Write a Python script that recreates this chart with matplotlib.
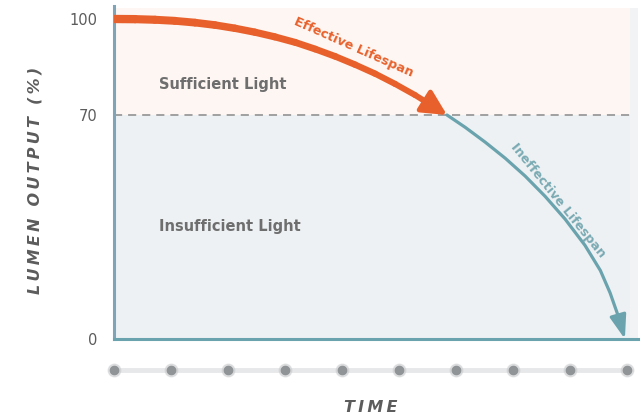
"""
Lumen output over time: effective vs ineffective lifespan.
"""

import numpy as np
import matplotlib.pyplot as plt
from matplotlib.collections import LineCollection
from matplotlib.patches import FancyArrowPatch

# values
y_ticks = [0, 70, 100]
y_tick_labels = ["0", "70", "100"]
threshold = 70
time_ticks = list(range(10))

effective_t = [0.0, 0.37, 0.72, 1.07, 1.42, 1.77, 2.12, 2.47, 2.82, 3.18,
               3.53, 3.88, 4.23, 4.58, 4.93, 5.28, 5.63, 5.84]
effective_lm = [100.0, 99.95, 99.76, 99.42, 98.87, 98.11, 97.1, 95.88, 94.42,
                92.68, 90.6, 88.31, 85.72, 82.91, 79.71, 76.23, 72.35, 70.0]

ineffective_t = [5.84, 6.16, 6.51, 6.86, 7.21, 7.56, 7.91, 8.26, 8.53, 8.70,
                 8.84, 8.96]
ineffective_lm = [70.0, 66.14, 61.51, 56.51, 50.93, 44.6, 37.5, 29.27, 21.41,
                  14.44, 7.35, 0.0]

ORANGE = "#e8612c"
TEAL = "#6aa3ad"
GRAY = "#5c5c5c"

fig = plt.figure(figsize=(6.41, 4.17), dpi=100)
ax = fig.add_axes([114 / 641, 1 - 339 / 417, 524 / 641, 333 / 417])
ax.set_xlim(0, 9.19)
ax.set_ylim(0, 104.06)

# background panel
panel_right = 9.05
ax.fill_between([0, panel_right], threshold, 103.5, color="#fdf6f2", lw=0, zorder=0)
ax.fill_between([0, panel_right], 0, threshold, color="#edf1f3", lw=0, zorder=0)
ax.fill_between([panel_right, 9.19], 0, 103.5, color="#f2f3f4", lw=0, zorder=0)

ax.axhline(threshold, xmax=panel_right / 9.19, color="#9a9a9a", lw=1.3,
           linestyle=(0, (4.5, 3.3)), zorder=1)

# effective lifespan - tapered orange stroke
pts = np.column_stack([effective_t, effective_lm])
segs = np.stack([pts[:-2], pts[1:-1]], axis=1)
widths = np.linspace(6.0, 4.2, len(segs))
ax.add_collection(LineCollection(segs, linewidths=widths, colors=ORANGE,
                                 capstyle="round", joinstyle="round", zorder=3))
ax.add_patch(FancyArrowPatch(tuple(pts[-2]), tuple(pts[-1]),
                             arrowstyle="-|>,head_length=0.75,head_width=0.38",
                             mutation_scale=20, lw=3.5, color=ORANGE,
                             shrinkA=0, shrinkB=0, zorder=3))

# ineffective lifespan - teal
ax.plot(ineffective_t[:-1], ineffective_lm[:-1], color=TEAL, lw=2.3,
        solid_capstyle="round", solid_joinstyle="round", zorder=2)
ax.add_patch(FancyArrowPatch((ineffective_t[-2], ineffective_lm[-2]),
                             (ineffective_t[-1], ineffective_lm[-1]),
                             arrowstyle="-|>,head_length=0.72,head_width=0.25",
                             mutation_scale=20, lw=2.3, color=TEAL,
                             shrinkA=0, shrinkB=0, zorder=2))

# labels inside the chart
ax.text(4.2, 91.0, "Effective Lifespan", color=ORANGE, fontsize=9.2,
        fontweight="bold", rotation=-24, ha="center", va="center", zorder=4)
ax.text(7.78, 43.2, "Ineffective Lifespan", color="#7aaab3", fontsize=9.2,
        fontweight="bold", rotation=-51, ha="center", va="center", zorder=4)
ax.text(0.79, 79.4, "Sufficient Light", color="#6e6e6e", fontsize=10.5,
        fontweight="bold", ha="left", va="center")
ax.text(0.79, 35.0, "Insufficient Light", color="#6e6e6e", fontsize=10.5,
        fontweight="bold", ha="left", va="center")

# spines and ticks
for side in ["top", "right"]:
    ax.spines[side].set_visible(False)
ax.spines["left"].set_color("#7fa4b8")
ax.spines["left"].set_linewidth(2.2)
ax.spines["bottom"].set_color(TEAL)
ax.spines["bottom"].set_linewidth(2.2)
ax.set_yticks(y_ticks)
ax.set_yticklabels(y_tick_labels)
ax.set_xticks([])
ax.tick_params(axis="y", length=0, pad=12, labelsize=10.5, labelcolor=GRAY)

# time dots under the axis
row = ax.get_xaxis_transform()
ax.plot([time_ticks[0], time_ticks[-1]], [-0.093, -0.093], transform=row,
        color="#e7e8e9", lw=3.5, clip_on=False, zorder=1)
ax.plot(time_ticks, [-0.093] * len(time_ticks), "o", transform=row,
        color="#c9cbcd", ms=9, clip_on=False, zorder=2, alpha=0.5)
ax.plot(time_ticks, [-0.093] * len(time_ticks), "o", transform=row,
        color="#909497", ms=6, clip_on=False, zorder=3)

sp = "\u2009"
ax.set_ylabel(sp.join("LUMEN OUTPUT (%)"), fontsize=11.5, color=GRAY,
              fontweight="bold", fontstyle="italic")
ax.yaxis.set_label_coords(-0.1355, 0.477)
ax.set_xlabel(sp.join("TIME"), fontsize=11.5, color=GRAY,
              fontweight="bold", fontstyle="italic")
ax.xaxis.set_label_coords(0.49, -0.183)

fig.savefig("out.png", dpi=100)
